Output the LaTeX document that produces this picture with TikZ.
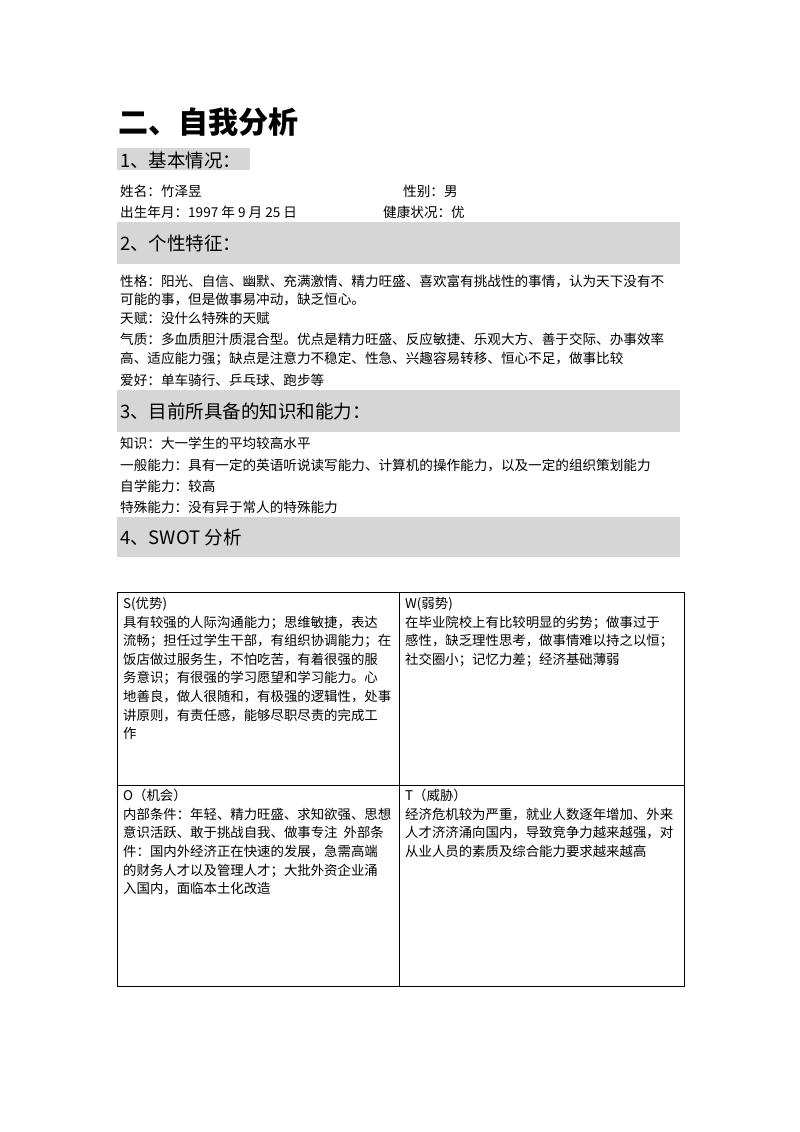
\documentclass[tikz,border=0pt]{standalone}
\usepackage{fontspec}
\setmainfont{Noto Sans CJK SC}
\begin{document}
\begin{tikzpicture}[x=1pt,y=-1pt,
  txt/.style={anchor=west,inner sep=0pt,font=\fontsize{13.6}{15}\selectfont},
  head/.style={anchor=west,inner sep=0pt,font=\fontsize{18.5}{20}\selectfont},
  band/.style={fill=black!16,draw=none},
  cell/.style={anchor=north west,inner sep=0pt,align=left,font=\fontsize{13.4}{18.6}\selectfont}]
\useasboundingbox (0,0) rectangle (800,1132);
\node[anchor=west,inner sep=0pt,font=\fontsize{30}{32}\bfseries\selectfont] (title) at (118,122) {二、自我分析};
\fill[band] (117,148) rectangle (250,170);
\node[head] (h1) at (120,160) {1、基本情况：};
\node[txt] (n1) at (120,191) {姓名：竹泽昱};
\node[txt] (n2) at (403,191) {性别：男};
\node[txt] (n3) at (120,212) {出生年月：1997 年 9 月 25 日};
\node[txt] (n4) at (383,212) {健康状况：优};
\fill[band] (117,222) rectangle (680,264);
\node[head] (h2) at (120,243) {2、个性特征：};
\node[txt] (p1) at (120,281) {性格：阳光、自信、幽默、充满激情、精力旺盛、喜欢富有挑战性的事情，认为天下没有不};
\node[txt] (p2) at (120,299) {可能的事，但是做事易冲动，缺乏恒心。};
\node[txt] (p3) at (120,318) {天赋：没什么特殊的天赋};
\node[txt] (p4) at (120,339) {气质：多血质胆汁质混合型。优点是精力旺盛、反应敏捷、乐观大方、善于交际、办事效率};
\node[txt] (p5) at (120,359) {高、适应能力强；缺点是注意力不稳定、性急、兴趣容易转移、恒心不足，做事比较};
\node[txt] (p6) at (120,380) {爱好：单车骑行、乒乓球、跑步等};
\fill[band] (117,390) rectangle (680,432);
\node[head] (h3) at (120,411) {3、目前所具备的知识和能力：};
\node[txt] (k1) at (120,443) {知识：大一学生的平均较高水平};
\node[txt] (k2) at (120,465) {一般能力：具有一定的英语听说读写能力、计算机的操作能力，以及一定的组织策划能力};
\node[txt] (k3) at (120,486) {自学能力：较高};
\node[txt] (k4) at (120,507) {特殊能力：没有异于常人的特殊能力};
\fill[band] (117,517) rectangle (680,557);
\node[head] (h4) at (120,537) {4、SWOT 分析};
\draw[line width=0.8pt] (117,592) rectangle (684,986);
\draw[line width=0.8pt] (399,592) -- (399,986);
\draw[line width=0.8pt] (117,785) -- (684,785);
\node[cell] (s) at (123,597) {S(优势)\\具有较强的人际沟通能力；思维敏捷，表达\\流畅；担任过学生干部，有组织协调能力；在\\饭店做过服务生，不怕吃苦，有着很强的服\\务意识；有很强的学习愿望和学习能力。心\\地善良，做人很随和，有极强的逻辑性，处事\\讲原则，有责任感，能够尽职尽责的完成工\\作};
\node[cell] (w) at (405,597) {W(弱势)\\在毕业院校上有比较明显的劣势；做事过于\\感性，缺乏理性思考，做事情难以持之以恒；\\社交圈小；记忆力差；经济基础薄弱};
\node[cell] (o) at (123,789) {O（机会）\\内部条件：年轻、精力旺盛、求知欲强、思想\\意识活跃、敢于挑战自我、做事专注\ \ 外部条\\件：国内外经济正在快速的发展，急需高端\\的财务人才以及管理人才；大批外资企业涌\\入国内，面临本土化改造};
\node[cell] (t) at (405,789) {T（威胁）\\经济危机较为严重，就业人数逐年增加、外来\\人才济济涌向国内，导致竞争力越来越强，对\\从业人员的素质及综合能力要求越来越高};
\end{tikzpicture}
\end{document}
